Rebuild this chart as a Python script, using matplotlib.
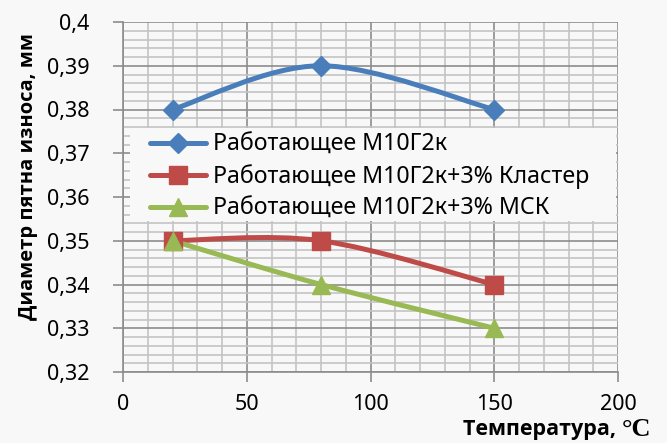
import matplotlib
matplotlib.use("Agg")
import matplotlib.pyplot as plt
from matplotlib.path import Path
from matplotlib.patches import PathPatch, Rectangle
from matplotlib.ticker import MultipleLocator, FuncFormatter
from matplotlib.lines import Line2D

plt.rcParams['font.family'] = ['Noto Sans', 'DejaVu Sans']

temps = [20, 80, 150]
series_names = ['Работающее М10Г2к',
                'Работающее М10Г2к+3% Кластер',
                'Работающее М10Г2к+3% МСК']
base = [0.38, 0.39, 0.38]
cluster = [0.35, 0.35, 0.34]
msk = [0.35, 0.34, 0.33]
colors = ['#4A7EBB', '#BE4B48', '#98B954']
markers = ['D', 's', '^']
msizes = [10, 13, 13]

x_ticks = [0, 50, 100, 150, 200]
y_ticks = [0.32, 0.33, 0.34, 0.35, 0.36, 0.37, 0.38, 0.39, 0.40]
xlabel = 'Температура, '
xlabel_unit = '°C'
ylabel = 'Диаметр пятна износа, мм'

W, H = 667, 443
bg = '#f8f8f8'
fig = plt.figure(figsize=(W/100, H/100), dpi=100, facecolor=bg)
L, R, T, B = 123, 618, 22, 372
ax = fig.add_axes([L/W, 1-B/H, (R-L)/W, (B-T)/H])
ax.set_facecolor(bg)


def smooth_path(xs, ys):
    pts = list(zip(xs, ys))
    n = len(pts)
    verts = [pts[0]]
    codes = [Path.MOVETO]
    for i in range(n - 1):
        p0 = pts[i - 1] if i > 0 else pts[i]
        p1 = pts[i]
        p2 = pts[i + 1]
        p3 = pts[i + 2] if i + 2 < n else pts[i + 1]
        c1 = (p1[0] + (p2[0] - p0[0]) / 6, p1[1] + (p2[1] - p0[1]) / 6)
        c2 = (p2[0] - (p3[0] - p1[0]) / 6, p2[1] - (p3[1] - p1[1]) / 6)
        verts += [c1, c2, p2]
        codes += [Path.CURVE4] * 3
    return Path(verts, codes)


handles = []
for ys, c, m, ms, name in zip([base, cluster, msk], colors, markers, msizes, series_names):
    patch = PathPatch(smooth_path(temps, ys), facecolor='none', edgecolor=c,
                      lw=3.6, capstyle='round', joinstyle='round', zorder=3)
    ax.add_patch(patch)
    ax.plot(temps, ys, linestyle='none', marker=m, ms=ms, color=c,
            markeredgecolor=c, zorder=4)
    handles.append(Line2D([0], [0], color=c, lw=3.6, marker=m, ms=ms,
                          solid_capstyle='round', label=name))

ax.set_xlim(0, 200)
ax.set_ylim(0.32, 0.40)
ax.xaxis.set_minor_locator(MultipleLocator(10))
ax.yaxis.set_minor_locator(MultipleLocator(0.002))
ax.set_xticks(x_ticks)
ax.set_yticks(y_ticks)
ax.xaxis.set_major_formatter(FuncFormatter(lambda v, p: f'{v:g}'))
ax.yaxis.set_major_formatter(FuncFormatter(lambda v, p: f'{round(v, 3):g}'.replace('.', ',')))

ax.grid(which='major', color='#8c8c8c', lw=1.2, zorder=1)
ax.grid(which='minor', color='#c4c4c4', lw=1.2, zorder=0)
ax.set_axisbelow(True)
for s in ['top', 'right']:
    ax.spines[s].set_visible(False)
for s in ['left', 'bottom']:
    ax.spines[s].set_color('#8c8c8c')
    ax.spines[s].set_linewidth(1.2)
ax.tick_params(which='major', length=7, width=1.2, color='#8c8c8c',
               labelsize=15.5, labelcolor='black')
ax.tick_params(which='minor', length=0)
ax.tick_params(axis='x', pad=9)
ax.tick_params(axis='y', pad=17)

# legend background box
lx0, lx1, ly0, ly1 = 130, 616, 128, 221
ax.add_patch(Rectangle(((lx0-L)/(R-L), 1-(ly1-T)/(B-T)), (lx1-lx0)/(R-L), (ly1-ly0)/(B-T),
                       transform=ax.transAxes, facecolor=bg, edgecolor='none', zorder=5))
leg = ax.legend(handles=handles, loc='upper left',
                bbox_to_anchor=((150-L)/(R-L), 1-(133-T)/(B-T)),
                frameon=False, fontsize=16.7, handlelength=2.4,
                handletextpad=0.3, labelspacing=0.33, borderpad=0,
                borderaxespad=0)
leg.set_zorder(6)

bold_fam = ['Open Sans', 'DejaVu Sans']
fig.text(28/W, 1-177/H, ylabel, rotation=90, ha='center', va='center',
         fontsize=14.5, fontweight='bold', family=bold_fam)
t2 = fig.text(651/W, 1-441/H, xlabel_unit, ha='right', va='bottom',
              fontsize=19, fontweight='bold', family=['Liberation Serif'])
ax.annotate(xlabel, xy=(0, 0.04), xycoords=t2, ha='right', va='bottom',
            fontsize=15.5, fontweight='bold', family=bold_fam,
            annotation_clip=False)

fig.savefig('out.png', dpi=100, facecolor=bg)
